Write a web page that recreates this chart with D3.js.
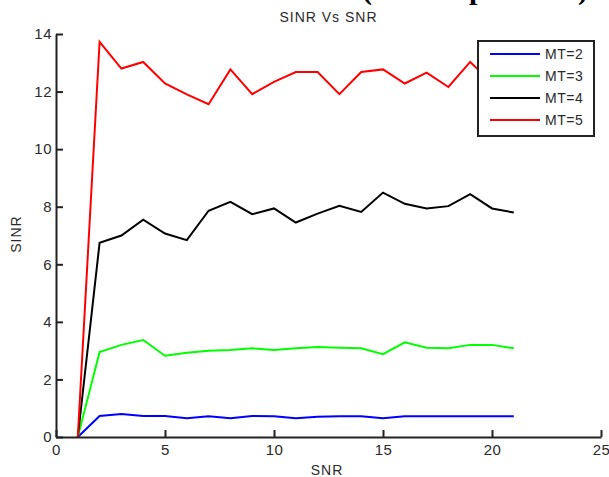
<!DOCTYPE html>
<html>
<head>
<meta charset="utf-8">
<script src="https://cdn.jsdelivr.net/npm/d3@7"></script>
<style>
  html, body { margin: 0; padding: 0; background: #fff; }
  svg { display: block; }
  text { font-family: "Liberation Sans", Arial, sans-serif; }
</style>
</head>
<body>
<svg id="chart" width="609" height="477"></svg>
<script>
// ---- data ----
const snr = [1, 2, 3, 4, 5, 6, 7, 8, 9, 10, 11, 12, 13, 14, 15, 16, 17, 18, 19, 20, 21];
const mt2 = [0, 0.73, 0.80, 0.73, 0.73, 0.65, 0.72, 0.65, 0.73, 0.72, 0.65, 0.70, 0.72, 0.72, 0.65, 0.72, 0.72, 0.72, 0.72, 0.72, 0.72];
const mt3 = [0, 2.95, 3.20, 3.37, 2.82, 2.93, 3.00, 3.02, 3.08, 3.02, 3.08, 3.13, 3.10, 3.08, 2.88, 3.29, 3.10, 3.08, 3.20, 3.20, 3.08];
const mt4 = [0, 6.75, 7.00, 7.55, 7.07, 6.84, 7.86, 8.17, 7.74, 7.94, 7.45, 7.76, 8.03, 7.82, 8.49, 8.10, 7.94, 8.02, 8.44, 7.94, 7.80];
const mt5 = [0, 13.73, 12.80, 13.03, 12.28, 11.90, 11.56, 12.77, 11.91, 12.34, 12.68, 12.68, 11.91, 12.68, 12.77, 12.28, 12.66, 12.16, 13.03, 12.30, 12.60];
const seriesNames = ["MT=2", "MT=3", "MT=4", "MT=5"];
const seriesColors = ["#0000ff", "#00ff00", "#000000", "#ff0000"];
const xTicks = [0, 5, 10, 15, 20, 25];
const yTicks = [0, 2, 4, 6, 8, 10, 12, 14];
const titleText = "SINR Vs SNR";
const xLabel = "SNR";
const yLabel = "SINR";
const captionFragment = "(for sample rates)";

const series = [mt2, mt3, mt4, mt5];

(function draw() {
  const svg = d3.select("#chart");
  const pL = 56, pR = 601, pT = 34, pB = 437;
  const x = d3.scaleLinear().domain([0, 25]).range([pL, pR]);
  const y = d3.scaleLinear().domain([0, 14]).range([pB, pT]);

  // cut-off caption fragment from the source document (only its descenders show)
  svg.append("text")
    .attr("x", 362).attr("y", -1)
    .style("font-family", "'Liberation Serif', 'Times New Roman', serif")
    .attr("font-weight", "bold")
    .attr("font-size", 30)
    .attr("fill", "#000")
    .text(captionFragment);

  // title
  svg.append("text")
    .attr("x", (pL + pR) / 2).attr("y", 22)
    .attr("text-anchor", "middle")
    .attr("font-size", 14)
    .attr("letter-spacing", 1)
    .attr("fill", "#2a2a2a")
    .text(titleText);

  // series lines
  const line = d3.line().x((d, i) => x(snr[i])).y(d => y(d));
  series.forEach((s, k) => {
    svg.append("path")
      .datum(s)
      .attr("d", line)
      .attr("fill", "none")
      .attr("stroke", seriesColors[k])
      .attr("stroke-width", 2)
      .attr("stroke-linejoin", "miter");
  });

  // axes (MATLAB style: inward ticks, left + bottom only)
  const xAxis = d3.axisBottom(x).tickValues(xTicks).tickSizeInner(-7).tickSizeOuter(0).tickPadding(7);
  const yAxis = d3.axisLeft(y).tickValues(yTicks).tickSizeInner(-7).tickSizeOuter(0).tickPadding(4);

  const gx = svg.append("g").attr("transform", `translate(0,${pB})`).call(xAxis);
  const gy = svg.append("g").attr("transform", `translate(${pL},0)`).call(yAxis);

  [gx, gy].forEach(g => {
    g.select(".domain").attr("stroke", "#222").attr("stroke-width", 2);
    g.selectAll(".tick line").attr("stroke", "#222").attr("stroke-width", 2);
    g.selectAll(".tick text")
      .attr("font-size", 15)
      .attr("letter-spacing", 0.5)
      .attr("fill", "#2a2a2a")
      .style("font-family", "'Liberation Sans', Arial, sans-serif");
  });

  // axis labels
  svg.append("text")
    .attr("x", 327).attr("y", 475)
    .attr("text-anchor", "middle")
    .attr("font-size", 14)
    .attr("letter-spacing", 1)
    .attr("fill", "#2a2a2a")
    .text(xLabel);

  svg.append("text")
    .attr("transform", "translate(21,234) rotate(-90)")
    .attr("text-anchor", "middle")
    .attr("font-size", 14)
    .attr("letter-spacing", 1)
    .attr("fill", "#2a2a2a")
    .text(yLabel);

  // legend
  const lg = svg.append("g");
  lg.append("rect")
    .attr("x", 478).attr("y", 41)
    .attr("width", 116).attr("height", 95)
    .attr("fill", "#fff")
    .attr("stroke", "#222")
    .attr("stroke-width", 2);
  seriesNames.forEach((name, i) => {
    const ly = 54 + i * 22;
    lg.append("line")
      .attr("x1", 490).attr("x2", 540)
      .attr("y1", ly).attr("y2", ly)
      .attr("stroke", seriesColors[i])
      .attr("stroke-width", 2);
    lg.append("text")
      .attr("x", 545).attr("y", ly)
      .attr("dy", "0.35em")
      .attr("font-size", 14)
      .attr("letter-spacing", 0.5)
      .attr("fill", "#2a2a2a")
      .text(name);
  });
})();
</script>
</body>
</html>
